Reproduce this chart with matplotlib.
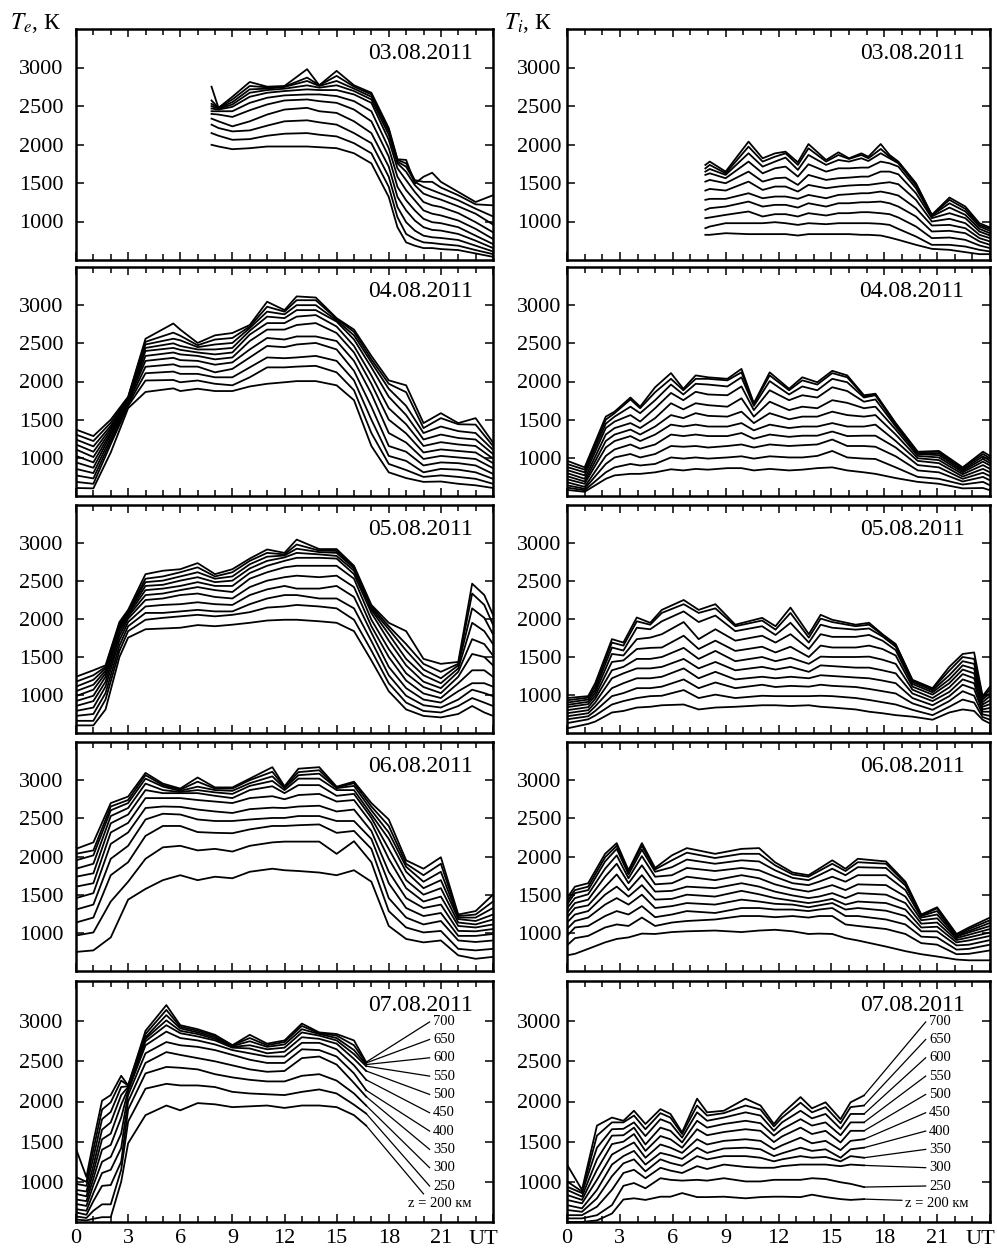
import matplotlib
matplotlib.use("Agg")
import matplotlib.pyplot as plt

plt.rcParams["font.family"] = ["Liberation Serif", "DejaVu Serif"]
plt.rcParams["mathtext.fontset"] = "stix"

# Altitudes of the curves, km (rows of every table below go 200 -> 700 km)
ALTITUDES = [200, 250, 300, 350, 400, 450, 500, 550, 600, 650, 700]
DATES = ["03.08.2011", "04.08.2011", "05.08.2011", "06.08.2011", "07.08.2011"]

# ---------------- Electron temperature Te, K ----------------
TE_0308_T = [7.8, 8.2, 9, 10, 11, 12, 13.3, 14, 15, 16, 17, 18, 18.5, 19, 19.5, 20, 20.5, 21, 22, 23, 24]
TE_0308 = [
    [1996, 1974, 1939, 1952, 1974, 1974, 1974, 1965, 1952, 1886, 1755, 1319, 926, 729, 686, 655, 655, 642, 629, 585, 541],
    [2148, 2114, 2061, 2070, 2114, 2140, 2148, 2127, 2105, 2017, 1886, 1450, 1057, 838, 773, 729, 720, 707, 686, 629, 576],
    [2258, 2214, 2170, 2183, 2245, 2301, 2314, 2288, 2258, 2148, 2017, 1581, 1188, 991, 882, 816, 795, 786, 760, 686, 611],
    [2336, 2301, 2236, 2301, 2389, 2454, 2476, 2432, 2410, 2301, 2148, 1712, 1319, 1144, 1013, 926, 891, 882, 838, 751, 655],
    [2397, 2389, 2358, 2445, 2520, 2572, 2585, 2563, 2541, 2454, 2301, 1843, 1450, 1275, 1144, 1035, 991, 978, 926, 816, 707],
    [2432, 2432, 2432, 2541, 2607, 2638, 2650, 2650, 2629, 2563, 2432, 1952, 1581, 1406, 1275, 1144, 1101, 1079, 1013, 904, 773],
    [2467, 2454, 2489, 2620, 2672, 2694, 2716, 2707, 2707, 2650, 2541, 2061, 1690, 1537, 1384, 1253, 1210, 1188, 1109, 991, 860],
    [2498, 2463, 2520, 2672, 2707, 2725, 2768, 2738, 2769, 2694, 2585, 2127, 1755, 1646, 1472, 1362, 1319, 1284, 1197, 1101, 961],
    [2528, 2472, 2550, 2716, 2725, 2747, 2825, 2760, 2825, 2725, 2620, 2170, 1777, 1712, 1515, 1450, 1406, 1362, 1275, 1166, 1066],
    [2572, 2476, 2585, 2760, 2742, 2751, 2869, 2769, 2891, 2751, 2650, 2192, 1800, 1755, 1537, 1515, 1515, 1441, 1341, 1223, 1210],
    [2751, 2476, 2620, 2812, 2751, 2760, 2978, 2769, 2956, 2769, 2672, 2214, 1808, 1800, 1493, 1581, 1633, 1515, 1384, 1253, 1341],
]

TE_0408_T = [0, 1, 2, 3, 4, 5.6, 6, 7, 8, 9, 10, 11, 12, 12.7, 13.8, 15, 16, 17, 18, 19, 20, 21, 22, 23, 24]
TE_0408 = [
    [605, 600, 1070, 1650, 1863, 1910, 1875, 1905, 1875, 1875, 1935, 1970, 1990, 2005, 2005, 1950, 1755, 1155, 810, 735, 685, 690, 660, 640, 605],
    [685, 660, 1180, 1680, 2013, 2020, 1990, 2013, 1970, 1950, 2055, 2185, 2185, 2195, 2205, 2120, 1885, 1325, 920, 840, 750, 770, 750, 725, 660],
    [770, 730, 1220, 1700, 2108, 2130, 2100, 2100, 2055, 2055, 2185, 2315, 2305, 2315, 2335, 2270, 2015, 1500, 1025, 960, 810, 855, 845, 810, 725],
    [855, 800, 1260, 1720, 2193, 2225, 2195, 2195, 2120, 2165, 2315, 2465, 2450, 2485, 2505, 2420, 2140, 1670, 1155, 1080, 900, 940, 930, 900, 790],
    [940, 870, 1300, 1740, 2270, 2310, 2280, 2270, 2220, 2250, 2420, 2570, 2550, 2590, 2590, 2530, 2270, 1840, 1325, 1200, 985, 1025, 1005, 985, 865],
    [1025, 940, 1330, 1750, 2335, 2380, 2355, 2335, 2290, 2315, 2530, 2680, 2680, 2740, 2765, 2635, 2380, 1970, 1500, 1320, 1070, 1110, 1090, 1070, 930],
    [1110, 1010, 1360, 1760, 2400, 2440, 2415, 2380, 2355, 2380, 2615, 2765, 2765, 2850, 2870, 2720, 2465, 2080, 1650, 1440, 1155, 1205, 1175, 1155, 990],
    [1175, 1080, 1390, 1770, 2440, 2500, 2465, 2420, 2420, 2440, 2665, 2850, 2830, 2935, 2935, 2785, 2550, 2185, 1800, 1560, 1240, 1305, 1260, 1240, 1050],
    [1240, 1150, 1420, 1780, 2485, 2560, 2540, 2450, 2485, 2505, 2700, 2915, 2880, 3000, 3000, 2800, 2605, 2250, 1905, 1680, 1325, 1410, 1350, 1325, 1105],
    [1305, 1220, 1460, 1790, 2520, 2640, 2600, 2475, 2550, 2570, 2720, 2980, 2915, 3065, 3065, 2820, 2650, 2290, 1970, 1860, 1390, 1520, 1440, 1435, 1155],
    [1370, 1285, 1500, 1800, 2560, 2760, 2680, 2505, 2605, 2635, 2740, 3045, 2935, 3115, 3100, 2830, 2680, 2335, 2015, 1950, 1455, 1585, 1455, 1520, 1200],
]

TE_0508_T = [0, 1, 1.7, 2.5, 3, 4, 5, 6, 7, 8, 9, 10, 11, 12, 12.7, 14, 15, 16, 17, 18, 19, 20, 21, 22, 22.8, 23.5, 24]
TE_0508 = [
    [600, 600, 810, 1500, 1755, 1865, 1875, 1885, 1920, 1905, 1925, 1950, 1980, 1990, 1990, 1970, 1950, 1840, 1455, 1050, 810, 725, 705, 750, 855, 770, 725],
    [660, 660, 940, 1580, 1840, 1990, 2015, 2035, 2055, 2035, 2055, 2090, 2150, 2165, 2185, 2165, 2140, 1990, 1585, 1155, 900, 790, 770, 855, 960, 900, 855],
    [725, 750, 1025, 1650, 1905, 2080, 2080, 2100, 2120, 2100, 2100, 2195, 2270, 2315, 2315, 2270, 2270, 2140, 1710, 1260, 990, 865, 835, 940, 1070, 1025, 985],
    [790, 835, 1110, 1720, 1960, 2165, 2185, 2195, 2220, 2195, 2185, 2315, 2390, 2435, 2400, 2400, 2435, 2290, 1820, 1370, 1090, 940, 900, 1050, 1155, 1155, 1110],
    [855, 920, 1175, 1780, 2005, 2250, 2270, 2315, 2335, 2290, 2270, 2420, 2505, 2550, 2570, 2550, 2570, 2420, 1905, 1500, 1190, 1020, 960, 1155, 1325, 1325, 1240],
    [920, 990, 1240, 1830, 2035, 2315, 2335, 2380, 2420, 2380, 2355, 2530, 2615, 2680, 2700, 2700, 2700, 2530, 1990, 1605, 1285, 1105, 1025, 1240, 1540, 1500, 1390],
    [985, 1070, 1285, 1870, 2055, 2380, 2400, 2435, 2485, 2435, 2435, 2605, 2700, 2765, 2805, 2805, 2795, 2590, 2080, 1715, 1390, 1175, 1090, 1305, 1735, 1670, 1520],
    [1050, 1135, 1320, 1900, 2075, 2435, 2450, 2505, 2550, 2485, 2505, 2665, 2765, 2810, 2870, 2850, 2830, 2635, 2120, 1800, 1475, 1260, 1155, 1350, 1950, 1840, 1670],
    [1110, 1200, 1350, 1920, 2090, 2485, 2505, 2560, 2615, 2530, 2560, 2720, 2820, 2835, 2925, 2880, 2870, 2665, 2140, 1865, 1585, 1335, 1220, 1390, 2140, 2015, 1800],
    [1175, 1260, 1370, 1940, 2100, 2530, 2560, 2615, 2680, 2560, 2615, 2765, 2870, 2850, 2980, 2900, 2895, 2680, 2165, 1905, 1670, 1410, 1305, 1410, 2335, 2185, 1925],
    [1240, 1325, 1390, 1960, 2120, 2590, 2635, 2655, 2735, 2590, 2655, 2795, 2915, 2870, 3045, 2920, 2920, 2700, 2185, 1950, 1840, 1475, 1410, 1435, 2465, 2315, 2055],
]

TE_0608_T = [0, 1, 2, 3, 4, 5, 6, 7, 8, 9, 10, 11.3, 12, 12.8, 14, 15, 16, 17, 18, 19, 20, 21, 22, 23, 24]
TE_0608 = [
    [750, 770, 940, 1435, 1575, 1690, 1755, 1690, 1735, 1715, 1800, 1840, 1820, 1810, 1790, 1755, 1820, 1670, 1090, 920, 875, 900, 705, 660, 685],
    [965, 1005, 1410, 1670, 1970, 2120, 2140, 2080, 2100, 2065, 2140, 2185, 2195, 2195, 2195, 2035, 2200, 1925, 1285, 1070, 1005, 1025, 790, 770, 790],
    [1135, 1200, 1755, 1925, 2270, 2400, 2400, 2320, 2310, 2305, 2355, 2400, 2400, 2410, 2420, 2310, 2335, 2100, 1455, 1200, 1110, 1155, 900, 880, 900],
    [1305, 1370, 1970, 2140, 2485, 2560, 2550, 2485, 2465, 2465, 2485, 2505, 2505, 2530, 2530, 2465, 2465, 2230, 1650, 1325, 1220, 1260, 960, 960, 985],
    [1455, 1520, 2165, 2315, 2635, 2655, 2650, 2615, 2590, 2570, 2620, 2640, 2635, 2655, 2665, 2590, 2615, 2335, 1800, 1455, 1325, 1370, 1025, 1020, 1050],
    [1605, 1650, 2315, 2440, 2765, 2765, 2765, 2740, 2720, 2700, 2765, 2790, 2750, 2805, 2820, 2720, 2740, 2440, 1970, 1585, 1410, 1475, 1090, 1070, 1110],
    [1735, 1780, 2435, 2550, 2870, 2830, 2830, 2830, 2795, 2765, 2870, 2920, 2830, 2935, 2935, 2795, 2820, 2505, 2100, 1690, 1500, 1585, 1135, 1110, 1175],
    [1840, 1905, 2530, 2635, 2955, 2870, 2845, 2870, 2840, 2820, 2925, 2990, 2870, 3020, 3020, 2870, 2870, 2550, 2230, 1800, 1585, 1690, 1180, 1155, 1240],
    [1950, 2015, 2605, 2700, 3020, 2915, 2860, 2915, 2870, 2860, 2960, 3050, 2895, 3065, 3085, 2895, 2925, 2605, 2315, 1865, 1670, 1800, 1200, 1200, 1325],
    [2035, 2080, 2655, 2740, 3065, 2935, 2875, 2980, 2890, 2890, 3000, 3110, 2910, 3105, 3130, 2905, 2960, 2655, 2400, 1905, 1755, 1905, 1220, 1240, 1410],
    [2100, 2185, 2700, 2785, 3095, 2955, 2890, 3035, 2905, 2905, 3020, 3170, 2920, 3150, 3170, 2915, 2980, 2700, 2485, 1950, 1840, 1990, 1240, 1285, 1500],
]

TE_0708_T = [0, 0.6, 1, 1.5, 2, 2.6, 3, 4, 5.2, 6, 7, 8, 9, 10, 11, 12, 13, 14, 15, 16, 16.7]
TE_0708 = [
    [530, 520, 540, 560, 560, 1000, 1480, 1830, 1950, 1890, 1980, 1965, 1930, 1940, 1950, 1920, 1950, 1950, 1930, 1830, 1700],
    [570, 550, 640, 720, 720, 1150, 1750, 2160, 2220, 2200, 2200, 2180, 2120, 2100, 2090, 2080, 2120, 2150, 2100, 1960, 1850],
    [620, 590, 760, 950, 960, 1250, 1900, 2350, 2430, 2420, 2400, 2340, 2300, 2270, 2250, 2250, 2320, 2340, 2260, 2100, 1950],
    [660, 640, 860, 1110, 1150, 1420, 2000, 2480, 2615, 2580, 2540, 2500, 2450, 2400, 2370, 2380, 2540, 2560, 2460, 2230, 2060],
    [725, 700, 960, 1250, 1310, 1600, 2080, 2600, 2740, 2700, 2680, 2640, 2580, 2520, 2480, 2480, 2650, 2640, 2560, 2350, 2140],
    [780, 760, 1040, 1400, 1460, 1800, 2130, 2700, 2870, 2790, 2760, 2710, 2640, 2600, 2560, 2560, 2730, 2730, 2650, 2450, 2270],
    [850, 820, 1120, 1530, 1600, 1960, 2160, 2750, 2950, 2850, 2810, 2760, 2670, 2660, 2600, 2620, 2800, 2780, 2720, 2530, 2380],
    [900, 880, 1200, 1650, 1740, 2080, 2180, 2780, 3010, 2880, 2840, 2780, 2680, 2700, 2650, 2670, 2860, 2820, 2760, 2590, 2440],
    [975, 950, 1300, 1780, 1870, 2180, 2190, 2800, 3075, 2910, 2860, 2800, 2690, 2750, 2680, 2710, 2900, 2840, 2790, 2640, 2460],
    [1060, 1000, 1400, 1900, 1990, 2260, 2200, 2840, 3140, 2930, 2880, 2820, 2700, 2790, 2700, 2740, 2940, 2850, 2820, 2700, 2480],
    [1410, 1060, 1500, 2010, 2080, 2320, 2200, 2880, 3200, 2950, 2900, 2830, 2700, 2830, 2720, 2760, 2970, 2860, 2840, 2760, 2490],
]

# ---------------- Ion temperature Ti, K ----------------
TI_0308_T = [7.85, 8.1, 9.0, 10.3, 11.1, 11.8, 12.4, 13.1, 13.7, 14.7, 15.4, 16.0, 16.7, 17.1, 17.8, 18.3, 18.8, 19.8, 20.7, 21.7, 22.6, 23.4, 24]
TI_0308 = [
    [827, 827, 848, 836, 836, 836, 836, 818, 836, 836, 836, 836, 827, 827, 818, 792, 762, 697, 645, 632, 602, 576, 576],
    [913, 935, 978, 978, 978, 991, 978, 956, 978, 965, 978, 978, 978, 978, 970, 956, 904, 805, 697, 697, 675, 632, 611],
    [1043, 1052, 1086, 1130, 1065, 1095, 1095, 1065, 1108, 1078, 1108, 1108, 1121, 1121, 1108, 1095, 1052, 935, 784, 792, 762, 689, 654],
    [1151, 1173, 1194, 1259, 1194, 1216, 1216, 1181, 1237, 1194, 1237, 1237, 1250, 1250, 1259, 1237, 1194, 1065, 870, 879, 848, 741, 697],
    [1281, 1294, 1294, 1367, 1302, 1324, 1324, 1294, 1345, 1302, 1345, 1354, 1367, 1367, 1389, 1367, 1337, 1173, 948, 956, 913, 784, 741],
    [1402, 1423, 1402, 1518, 1410, 1454, 1454, 1389, 1475, 1432, 1454, 1467, 1475, 1475, 1497, 1510, 1484, 1281, 1000, 1035, 978, 827, 784],
    [1518, 1540, 1497, 1648, 1518, 1562, 1570, 1475, 1605, 1540, 1562, 1570, 1583, 1583, 1648, 1648, 1613, 1367, 1043, 1108, 1043, 870, 818],
    [1605, 1626, 1562, 1778, 1626, 1691, 1713, 1583, 1743, 1648, 1691, 1691, 1700, 1700, 1778, 1756, 1713, 1432, 1065, 1181, 1086, 904, 848],
    [1648, 1682, 1605, 1886, 1713, 1778, 1830, 1670, 1864, 1735, 1799, 1778, 1821, 1786, 1886, 1821, 1756, 1467, 1078, 1237, 1130, 935, 879],
    [1690, 1735, 1626, 1972, 1778, 1842, 1885, 1735, 1950, 1778, 1864, 1812, 1864, 1821, 1942, 1842, 1770, 1485, 1082, 1281, 1164, 955, 905],
    [1735, 1778, 1648, 2037, 1821, 1885, 1907, 1769, 2006, 1799, 1898, 1821, 1885, 1842, 2006, 1864, 1778, 1497, 1086, 1311, 1194, 978, 922],
]

TI_0408_T = [0, 1, 2.2, 2.7, 3.6, 4.15, 5, 5.9, 6.6, 7.3, 8, 9.1, 9.9, 10.6, 11.5, 12.6, 13.35, 14.2, 15.05, 15.9, 16.85, 17.5, 18.65, 19.9, 21.1, 22.45, 23.6, 24]
TI_0408 = [
    [580, 555, 725, 770, 790, 790, 810, 850, 835, 855, 845, 865, 865, 835, 855, 835, 845, 865, 875, 835, 810, 790, 735, 685, 660, 600, 605, 575],
    [610, 575, 810, 875, 920, 900, 920, 1005, 990, 1005, 990, 1005, 1020, 990, 1020, 1005, 1005, 1025, 1090, 1005, 990, 985, 875, 750, 725, 650, 685, 640],
    [640, 595, 920, 1005, 1050, 1005, 1050, 1155, 1145, 1155, 1135, 1155, 1175, 1135, 1175, 1155, 1165, 1175, 1240, 1155, 1155, 1145, 1020, 835, 810, 690, 750, 705],
    [680, 620, 1025, 1110, 1175, 1120, 1175, 1305, 1285, 1305, 1285, 1285, 1325, 1250, 1305, 1275, 1290, 1290, 1345, 1285, 1290, 1290, 1135, 905, 875, 725, 805, 760],
    [720, 660, 1135, 1220, 1285, 1220, 1305, 1435, 1410, 1435, 1410, 1410, 1455, 1360, 1435, 1390, 1410, 1410, 1455, 1410, 1410, 1435, 1220, 960, 930, 755, 855, 810],
    [760, 690, 1220, 1305, 1370, 1305, 1410, 1560, 1520, 1585, 1550, 1540, 1605, 1455, 1585, 1505, 1540, 1540, 1605, 1560, 1540, 1560, 1305, 995, 970, 785, 905, 855],
    [800, 725, 1305, 1390, 1455, 1390, 1520, 1715, 1635, 1715, 1690, 1670, 1780, 1540, 1735, 1625, 1670, 1650, 1755, 1720, 1650, 1670, 1370, 1025, 1005, 810, 950, 900],
    [840, 770, 1390, 1475, 1560, 1475, 1650, 1850, 1755, 1865, 1830, 1820, 1935, 1625, 1885, 1755, 1820, 1790, 1925, 1875, 1735, 1765, 1410, 1050, 1035, 830, 985, 930],
    [880, 810, 1447, 1540, 1670, 1585, 1755, 1960, 1830, 1970, 1960, 1935, 2055, 1680, 2005, 1830, 1935, 1885, 2035, 1990, 1790, 1820, 1435, 1060, 1060, 845, 1020, 960],
    [920, 845, 1500, 1585, 1765, 1650, 1860, 2035, 1885, 2035, 2035, 2015, 2120, 1705, 2080, 1885, 2015, 1960, 2110, 2055, 1808, 1830, 1445, 1075, 1080, 865, 1050, 995],
    [962, 875, 1540, 1605, 1790, 1670, 1925, 2110, 1905, 2080, 2055, 2035, 2165, 1715, 2120, 1905, 2055, 1990, 2140, 2080, 1820, 1840, 1455, 1080, 1090, 875, 1080, 1025],
]

TI_0508_T = [0, 1.2, 1.6, 2.55, 3.2, 3.96, 4.72, 5.38, 6.62, 7.47, 8.42, 9.55, 11.07, 11.83, 12.68, 13.72, 14.39, 15.05, 16.38, 17.14, 17.9, 18.65, 19.6, 20.74, 21.69, 22.45, 23.1, 23.58, 24]
TI_0508 = [
    [560, 620, 650, 770, 790, 835, 845, 865, 875, 810, 835, 845, 865, 865, 855, 865, 845, 835, 810, 780, 760, 735, 715, 675, 770, 810, 790, 675, 625],
    [630, 680, 730, 875, 920, 960, 985, 990, 1065, 960, 1005, 960, 990, 985, 985, 985, 990, 985, 960, 935, 905, 875, 805, 735, 845, 940, 900, 710, 675],
    [680, 720, 790, 985, 1025, 1090, 1090, 1110, 1205, 1090, 1165, 1090, 1135, 1105, 1120, 1110, 1135, 1120, 1105, 1080, 1050, 1020, 890, 805, 920, 1050, 990, 745, 725],
    [720, 760, 850, 1090, 1155, 1220, 1220, 1240, 1350, 1220, 1305, 1205, 1240, 1220, 1240, 1220, 1260, 1250, 1230, 1220, 1190, 1155, 960, 865, 985, 1135, 1080, 780, 780],
    [760, 800, 900, 1220, 1285, 1350, 1350, 1370, 1475, 1350, 1435, 1325, 1370, 1335, 1370, 1305, 1390, 1380, 1360, 1360, 1325, 1285, 1020, 920, 1040, 1205, 1155, 810, 830],
    [800, 840, 950, 1325, 1370, 1475, 1475, 1500, 1620, 1475, 1580, 1445, 1500, 1445, 1490, 1410, 1505, 1500, 1500, 1505, 1465, 1410, 1070, 960, 1100, 1275, 1220, 845, 880],
    [840, 880, 990, 1435, 1455, 1605, 1620, 1625, 1780, 1605, 1715, 1580, 1635, 1560, 1635, 1500, 1650, 1625, 1625, 1650, 1605, 1520, 1110, 1005, 1155, 1335, 1285, 875, 930],
    [870, 910, 1030, 1540, 1520, 1735, 1755, 1800, 1960, 1735, 1865, 1715, 1780, 1690, 1800, 1605, 1800, 1765, 1765, 1790, 1715, 1590, 1145, 1035, 1205, 1390, 1345, 905, 985],
    [900, 940, 1070, 1625, 1585, 1885, 1865, 1970, 2100, 1960, 2045, 1840, 1905, 1790, 1950, 1690, 1925, 1885, 1860, 1875, 1770, 1635, 1170, 1060, 1260, 1445, 1410, 940, 1025],
    [930, 965, 1110, 1690, 1650, 1970, 1925, 2080, 2195, 2080, 2140, 1905, 1980, 1860, 2080, 1755, 2005, 1960, 1905, 1925, 1790, 1660, 1190, 1080, 1320, 1500, 1475, 965, 1070],
    [960, 985, 1155, 1735, 1690, 2020, 1950, 2120, 2250, 2120, 2195, 1925, 2015, 1905, 2150, 1800, 2055, 1990, 1925, 1950, 1800, 1670, 1200, 1090, 1370, 1540, 1560, 985, 1110],
]

TI_0608_T = [0, 0.45, 1.2, 2.16, 2.82, 3.49, 4.25, 5.0, 5.95, 6.8, 8.4, 9.9, 10.9, 11.8, 12.8, 13.7, 14.3, 15.05, 15.8, 16.5, 18.1, 19.2, 20.1, 21.0, 22.1, 22.8, 24]
TI_0608 = [
    [705, 725, 790, 875, 920, 940, 990, 985, 1010, 1020, 1030, 1010, 1030, 1040, 1020, 985, 990, 985, 930, 900, 820, 760, 720, 690, 650, 640, 640],
    [835, 930, 960, 1070, 1110, 1090, 1200, 1090, 1135, 1155, 1175, 1220, 1220, 1205, 1220, 1200, 1220, 1220, 1110, 1090, 1050, 985, 865, 845, 720, 725, 770],
    [960, 1070, 1090, 1220, 1285, 1240, 1350, 1205, 1240, 1285, 1260, 1325, 1325, 1305, 1305, 1285, 1305, 1325, 1220, 1220, 1175, 1110, 950, 940, 780, 790, 845],
    [1050, 1155, 1200, 1370, 1455, 1370, 1500, 1325, 1350, 1390, 1370, 1435, 1410, 1380, 1370, 1335, 1360, 1390, 1305, 1325, 1290, 1220, 1020, 1020, 835, 845, 905],
    [1135, 1240, 1285, 1500, 1605, 1475, 1625, 1435, 1445, 1500, 1475, 1550, 1505, 1455, 1420, 1390, 1410, 1445, 1370, 1410, 1390, 1305, 1070, 1080, 875, 900, 960],
    [1200, 1325, 1360, 1605, 1765, 1560, 1755, 1540, 1550, 1605, 1585, 1650, 1605, 1540, 1490, 1455, 1475, 1520, 1455, 1520, 1500, 1390, 1120, 1135, 905, 940, 1005],
    [1260, 1390, 1435, 1735, 1905, 1650, 1885, 1635, 1650, 1735, 1690, 1755, 1715, 1635, 1575, 1540, 1575, 1625, 1560, 1635, 1625, 1475, 1165, 1190, 930, 975, 1050],
    [1320, 1455, 1505, 1840, 2015, 1715, 2005, 1735, 1755, 1850, 1810, 1850, 1820, 1735, 1650, 1625, 1670, 1735, 1670, 1755, 1755, 1560, 1200, 1240, 950, 1005, 1090],
    [1370, 1520, 1560, 1935, 2100, 1765, 2090, 1800, 1860, 1960, 1905, 1950, 1935, 1820, 1720, 1690, 1755, 1840, 1755, 1860, 1850, 1620, 1220, 1285, 960, 1025, 1130],
    [1410, 1560, 1605, 1990, 2140, 1800, 2140, 1830, 1950, 2050, 1980, 2035, 2035, 1885, 1765, 1735, 1810, 1905, 1810, 1925, 1905, 1650, 1230, 1320, 975, 1050, 1165],
    [1455, 1605, 1650, 2035, 2175, 1820, 2175, 1850, 2015, 2110, 2035, 2100, 2110, 1925, 1790, 1755, 1840, 1950, 1840, 1970, 1935, 1670, 1240, 1335, 985, 1070, 1200],
]

TI_0708_T = [0, 0.85, 1.7, 2.55, 3.2, 3.8, 4.45, 5.3, 5.87, 6.53, 7.38, 7.95, 8.9, 10.13, 10.98, 11.74, 12.2, 13.25, 13.9, 14.67, 15.52, 16.09, 16.85]
TI_0708 = [
    [500, 500, 520, 605, 780, 795, 775, 815, 815, 860, 810, 810, 815, 795, 810, 815, 815, 810, 840, 810, 785, 775, 785],
    [545, 545, 585, 710, 950, 985, 920, 1045, 1025, 1015, 1025, 1015, 1045, 1005, 1005, 1025, 1025, 1025, 1045, 1035, 995, 975, 935],
    [585, 585, 690, 900, 1110, 1150, 1045, 1175, 1140, 1110, 1195, 1160, 1215, 1185, 1175, 1175, 1195, 1215, 1215, 1215, 1195, 1215, 1205],
    [650, 627, 795, 1070, 1230, 1280, 1130, 1280, 1235, 1200, 1320, 1280, 1320, 1320, 1300, 1255, 1280, 1320, 1300, 1310, 1255, 1320, 1300],
    [710, 670, 900, 1215, 1320, 1385, 1215, 1360, 1330, 1285, 1425, 1360, 1415, 1425, 1405, 1320, 1355, 1425, 1385, 1405, 1300, 1405, 1425],
    [775, 732, 1025, 1340, 1420, 1490, 1300, 1465, 1425, 1360, 1530, 1465, 1510, 1530, 1510, 1405, 1455, 1550, 1480, 1510, 1395, 1510, 1530],
    [837, 775, 1150, 1470, 1500, 1595, 1385, 1570, 1530, 1425, 1655, 1580, 1620, 1655, 1635, 1495, 1565, 1675, 1595, 1635, 1490, 1635, 1635],
    [900, 816, 1280, 1575, 1580, 1675, 1465, 1675, 1635, 1490, 1760, 1675, 1720, 1760, 1730, 1575, 1655, 1780, 1700, 1740, 1580, 1740, 1740],
    [940, 860, 1425, 1655, 1660, 1740, 1570, 1780, 1730, 1550, 1865, 1760, 1800, 1865, 1825, 1635, 1740, 1885, 1790, 1845, 1660, 1845, 1845],
    [1005, 880, 1575, 1740, 1740, 1825, 1655, 1855, 1800, 1595, 1950, 1825, 1855, 1950, 1900, 1690, 1800, 1985, 1865, 1930, 1730, 1930, 1950],
    [1215, 900, 1700, 1800, 1760, 1885, 1720, 1905, 1845, 1615, 2035, 1865, 1885, 2035, 1950, 1720, 1845, 2055, 1915, 1990, 1780, 1990, 2075],
]

# Altitude labels on the last day: text and the label's vertical position (K)
ALT_LABELS = ["z = 200 км", "250", "300", "350", "400", "450", "500", "550", "600", "650", "700"]
ALT_LABEL_Y = [725, 948, 1176, 1404, 1632, 1860, 2088, 2316, 2544, 2772, 2990]

LEFT_PANELS = [(TE_0308_T, TE_0308), (TE_0408_T, TE_0408), (TE_0508_T, TE_0508),
               (TE_0608_T, TE_0608), (TE_0708_T, TE_0708)]
RIGHT_PANELS = [(TI_0308_T, TI_0308), (TI_0408_T, TI_0408), (TI_0508_T, TI_0508),
                (TI_0608_T, TI_0608), (TI_0708_T, TI_0708)]

W, H = 997, 1251
fig = plt.figure(figsize=(W / 100, H / 100), dpi=100)
fig.patch.set_facecolor("white")

COLS = [(76, 493), (567, 990)]
ROWS = [(29, 260), (267, 496), (505, 733), (742, 971), (981, 1222)]
XTICKS = list(range(0, 25, 3))
XTICKLABELS = ["0", "3", "6", "9", "12", "15", "18", "21", ""]


def make_axes(col, row):
    x0, x1 = COLS[col]
    y0, y1 = ROWS[row]
    ax = fig.add_axes([x0 / W, 1 - y1 / H, (x1 - x0) / W, (y1 - y0) / H])
    ax.set_xlim(0, 24)
    ax.set_ylim(500, 3500)
    ax.set_xticks(XTICKS)
    ax.set_xticks(range(0, 25), minor=True)
    ax.set_yticks([1000, 1500, 2000, 2500, 3000])
    ax.set_yticklabels(["1000", "1500", "2000", "2500", "3000"])
    ax.tick_params(which="both", direction="in", top=True, right=True, width=1.1)
    ax.tick_params(which="major", length=6)
    ax.tick_params(which="minor", length=4)
    ax.tick_params(axis="y", labelsize=16, pad=9 if col == 0 else 4)
    if row == len(ROWS) - 1:
        ax.set_xticklabels(XTICKLABELS)
        ax.tick_params(axis="x", labelsize=16, pad=5)
        ax.annotate("UT", xy=(24, 0), xycoords=("data", "axes fraction"),
                    xytext=(4, -5.5), textcoords="offset points",
                    ha="right", va="top", fontsize=16)
    else:
        ax.tick_params(axis="x", labelbottom=False)
    for sp in ax.spines.values():
        sp.set_linewidth(1.8)
    return ax, y1 - y0


for col, panels in enumerate([LEFT_PANELS, RIGHT_PANELS]):
    for row, (times, table) in enumerate(panels):
        ax, h_px = make_axes(col, row)
        for values in table:
            ax.plot(times, values, color="black", lw=1.3, solid_joinstyle="round")
        ax.text(0.952 if col == 0 else 0.94, 1 - 30 / h_px, DATES[row],
                transform=ax.transAxes, ha="right", va="baseline", fontsize=17)
        if row == len(ROWS) - 1:
            # leader lines from the curve ends to the altitude labels
            for k, values in enumerate(table):
                t_end, v_end = times[-1], values[-1]
                if k == 0:
                    lx, ly = (20.0, 850) if col == 0 else (19.0, 770)
                    tx = 19.1 if col == 0 else 19.2
                else:
                    lx, ly = 20.35, ALT_LABEL_Y[k]
                    tx = 20.55
                ax.plot([t_end, lx], [v_end, ly], color="black", lw=0.9,
                        clip_on=False)
                ax.text(tx, ALT_LABEL_Y[k], ALT_LABELS[k], ha="left", va="center",
                        fontsize=10.5)

fig.text(10 / W, 1 - 23 / H, r"$T_e$, К", ha="left", va="center", fontsize=17)
fig.text(504 / W, 1 - 23 / H, r"$T_i$, К", ha="left", va="center", fontsize=17)

fig.savefig("out.png", dpi=100, facecolor="white")
